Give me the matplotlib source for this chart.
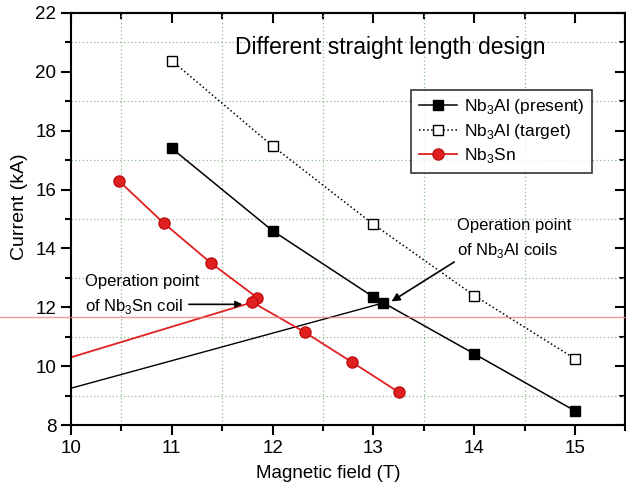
import numpy as np
import matplotlib as mpl
mpl.use('Agg')
import matplotlib.pyplot as plt
from matplotlib.ticker import MultipleLocator, NullFormatter

plt.rcParams['font.family'] = ['Liberation Sans', 'DejaVu Sans']
plt.rcParams['mathtext.fontset'] = 'custom'
plt.rcParams['mathtext.rm'] = 'Liberation Sans'

# Nb3Al present (square, solid)
al_present_b = [11.0, 12.0, 13.0, 13.1, 14.0, 15.0]
al_present_i = [17.4, 14.6, 12.35, 12.15, 10.42, 8.48]
# Nb3Al target (open square, dotted)
al_target_b = [11.0, 12.0, 13.0, 14.0, 15.0]
al_target_i = [20.38, 17.48, 14.82, 12.4, 10.25]
# Nb3Sn (red circles)
sn_b = [10.48, 10.92, 11.39, 11.85, 11.80, 12.32, 12.79, 13.25]
sn_i = [16.28, 14.86, 13.5, 12.32, 12.17, 11.15, 10.13, 9.12]
# load lines
load_al_b = [10.0, 13.1]
load_al_i = [9.25, 12.15]
load_sn_b = [10.0, 11.8]
load_sn_i = [10.3, 12.17]

red = '#e02020'

fig = plt.figure(figsize=(6.26, 4.86), dpi=100)
ax = fig.add_axes([0.1134, 0.1255, 0.8856, 0.8478])

ax.plot(load_al_b, load_al_i, color='black', lw=1.0)
ax.plot(load_sn_b, load_sn_i, color=red, lw=1.3)

ax.plot(al_present_b, al_present_i, 'k-', lw=1.1, marker='s', ms=7,
        mfc='black', label=r'Nb$_3$Al (present)')
ax.plot(al_target_b, al_target_i, 'k:', lw=1.1, marker='s', ms=7,
        mfc='white', label=r'Nb$_3$Al (target)')
ax.plot(sn_b, sn_i, '-', color=red, lw=1.3, marker='o', ms=8,
        mfc=red, mec='#c01010', label=r'Nb$_3$Sn')

ax.set_xlim(10, 15.5)
ax.set_ylim(8, 22)
ax.xaxis.set_major_locator(MultipleLocator(1))
ax.xaxis.set_minor_locator(MultipleLocator(0.5))
ax.yaxis.set_major_locator(MultipleLocator(2))
ax.yaxis.set_minor_locator(MultipleLocator(1))
ax.set_xticks([10, 11, 12, 13, 14, 15])
ax.grid(which='minor', color='#8cb88c', ls=(0, (1, 2)), lw=0.9)
ax.grid(which='major', visible=False)

ax.tick_params(which='both', direction='out', width=1.5, labelsize=13.5)
ax.tick_params(which='major', length=7)
ax.tick_params(which='minor', length=4)
for s in ax.spines.values():
    s.set_linewidth(1.5)

# inward ticks on top and right, no labels
top = ax.secondary_xaxis('top')
right = ax.secondary_yaxis('right')
top.set_xticks([10, 11, 12, 13, 14, 15])
top.xaxis.set_minor_locator(MultipleLocator(0.5))
top.xaxis.set_major_formatter(NullFormatter())
right.yaxis.set_major_locator(MultipleLocator(2))
right.yaxis.set_minor_locator(MultipleLocator(1))
right.yaxis.set_major_formatter(NullFormatter())
for sec in (top, right):
    sec.tick_params(which='both', direction='in', width=1.5)
    sec.tick_params(which='major', length=7)
    sec.tick_params(which='minor', length=4)
    for s in sec.spines.values():
        s.set_linewidth(1.5)

ax.set_xlabel('Magnetic field (T)', fontsize=13.5)
ax.xaxis.set_label_coords(0.464, -0.098)
ax.set_ylabel('Current (kA)', fontsize=14)
ax.yaxis.set_label_coords(-0.078, 0.53)

ax.text(0.576, 0.917, 'Different straight length design', transform=ax.transAxes,
        ha='center', va='center', fontsize=16.5)

leg = ax.legend(loc='upper left', bbox_to_anchor=(0.598, 0.835), fontsize=12.5,
                frameon=True, fancybox=False, edgecolor='black',
                handlelength=2.2, handletextpad=0.4, borderpad=0.45,
                labelspacing=0.3)
leg.get_frame().set_linewidth(1.2)

ax.annotate('Operation point\n' + r'of Nb$_3$Al coils', xy=(13.18, 12.2),
            xytext=(13.83, 13.6), fontsize=12, ha='left', va='bottom',
            linespacing=1.55,
            arrowprops=dict(arrowstyle='-|>', color='black', lw=1.2,
                            shrinkA=0, shrinkB=0, relpos=(0.0, 0.0)))
ax.annotate('Operation point\n' + r'of Nb$_3$Sn coil', xy=(11.7, 12.1),
            xytext=(10.14, 11.7), fontsize=12, ha='left', va='bottom',
            linespacing=1.55)
ax.annotate('', xy=(11.7, 12.1), xytext=(11.17, 12.1),
            arrowprops=dict(arrowstyle='-|>', color='black', lw=1.2,
                            shrinkA=0, shrinkB=0))

# faint scan line across the page
fig.add_artist(plt.Line2D([0, 1], [1 - 317 / 486, 1 - 317 / 486],
                          color='#f08080', lw=1.0, alpha=0.8))

fig.savefig('out.png', dpi=100)
